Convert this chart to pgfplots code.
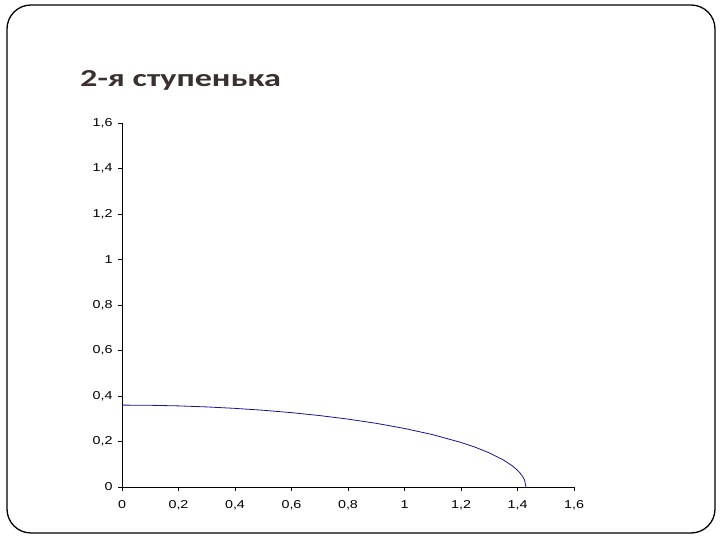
\documentclass[border=0pt]{standalone}
\usepackage{fontspec}
\setmainfont{Liberation Sans}[FakeStretch=1.25]
\newfontfamily\titlefont{Carlito}[FakeStretch=1.4]
\usepackage{pgfplots}
\pgfplotsset{compat=1.18}
\definecolor{titlebrown}{RGB}{59,48,48}
\definecolor{curveblue}{RGB}{20,20,150}

\begin{document}
\begin{tikzpicture}[x=1bp,y=1bp]
  % slide frame
  \path[use as bounding box] (0,0) rectangle (720,540);
  \draw[line width=1.3bp, rounded corners=24bp] (7,7) rectangle (715,535);
  \node[anchor=base west, font=\titlefont\bfseries\fontsize{24.5}{28}\selectfont, text=titlebrown, inner sep=0]
    at (80,453) {2-я ступенька};

  \begin{axis}[
    at={(122bp,53bp)}, anchor=south west,
    scale only axis, width=452bp, height=364bp,
    xmin=0, xmax=1.6, ymin=0, ymax=1.6,
    xtick={0,0.2,...,1.6}, ytick={0,0.2,...,1.6},
    axis lines=left, axis line style={-, line width=0.9bp},
    tick style={black, line width=0.8bp},
    tick align=outside, major tick length=4bp,
    /pgf/number format/assume math mode=true,
    /pgf/number format/use comma,
    ticklabel style={font=\fontsize{11.5}{13}\selectfont},
    xticklabel style={yshift=-6bp},
    yticklabel style={xshift=-2bp},
    clip=false]
    \addplot[curveblue, line width=0.8bp] coordinates {
      (0,0.360) (0.1,0.3591) (0.2,0.3565) (0.3,0.3520) (0.4,0.3456)
      (0.5,0.3373) (0.6,0.3268) (0.7,0.3139) (0.8,0.2984) (0.9,0.2798)
      (1.0,0.2573) (1.1,0.2300) (1.2,0.1958) (1.25,0.1749) (1.3,0.1500)
      (1.35,0.1187) (1.38,0.0944) (1.40,0.0734) (1.41,0.0600) (1.42,0.0425)
      (1.425,0.0301) (1.43,0)};
  \end{axis}
\end{tikzpicture}
\end{document}
